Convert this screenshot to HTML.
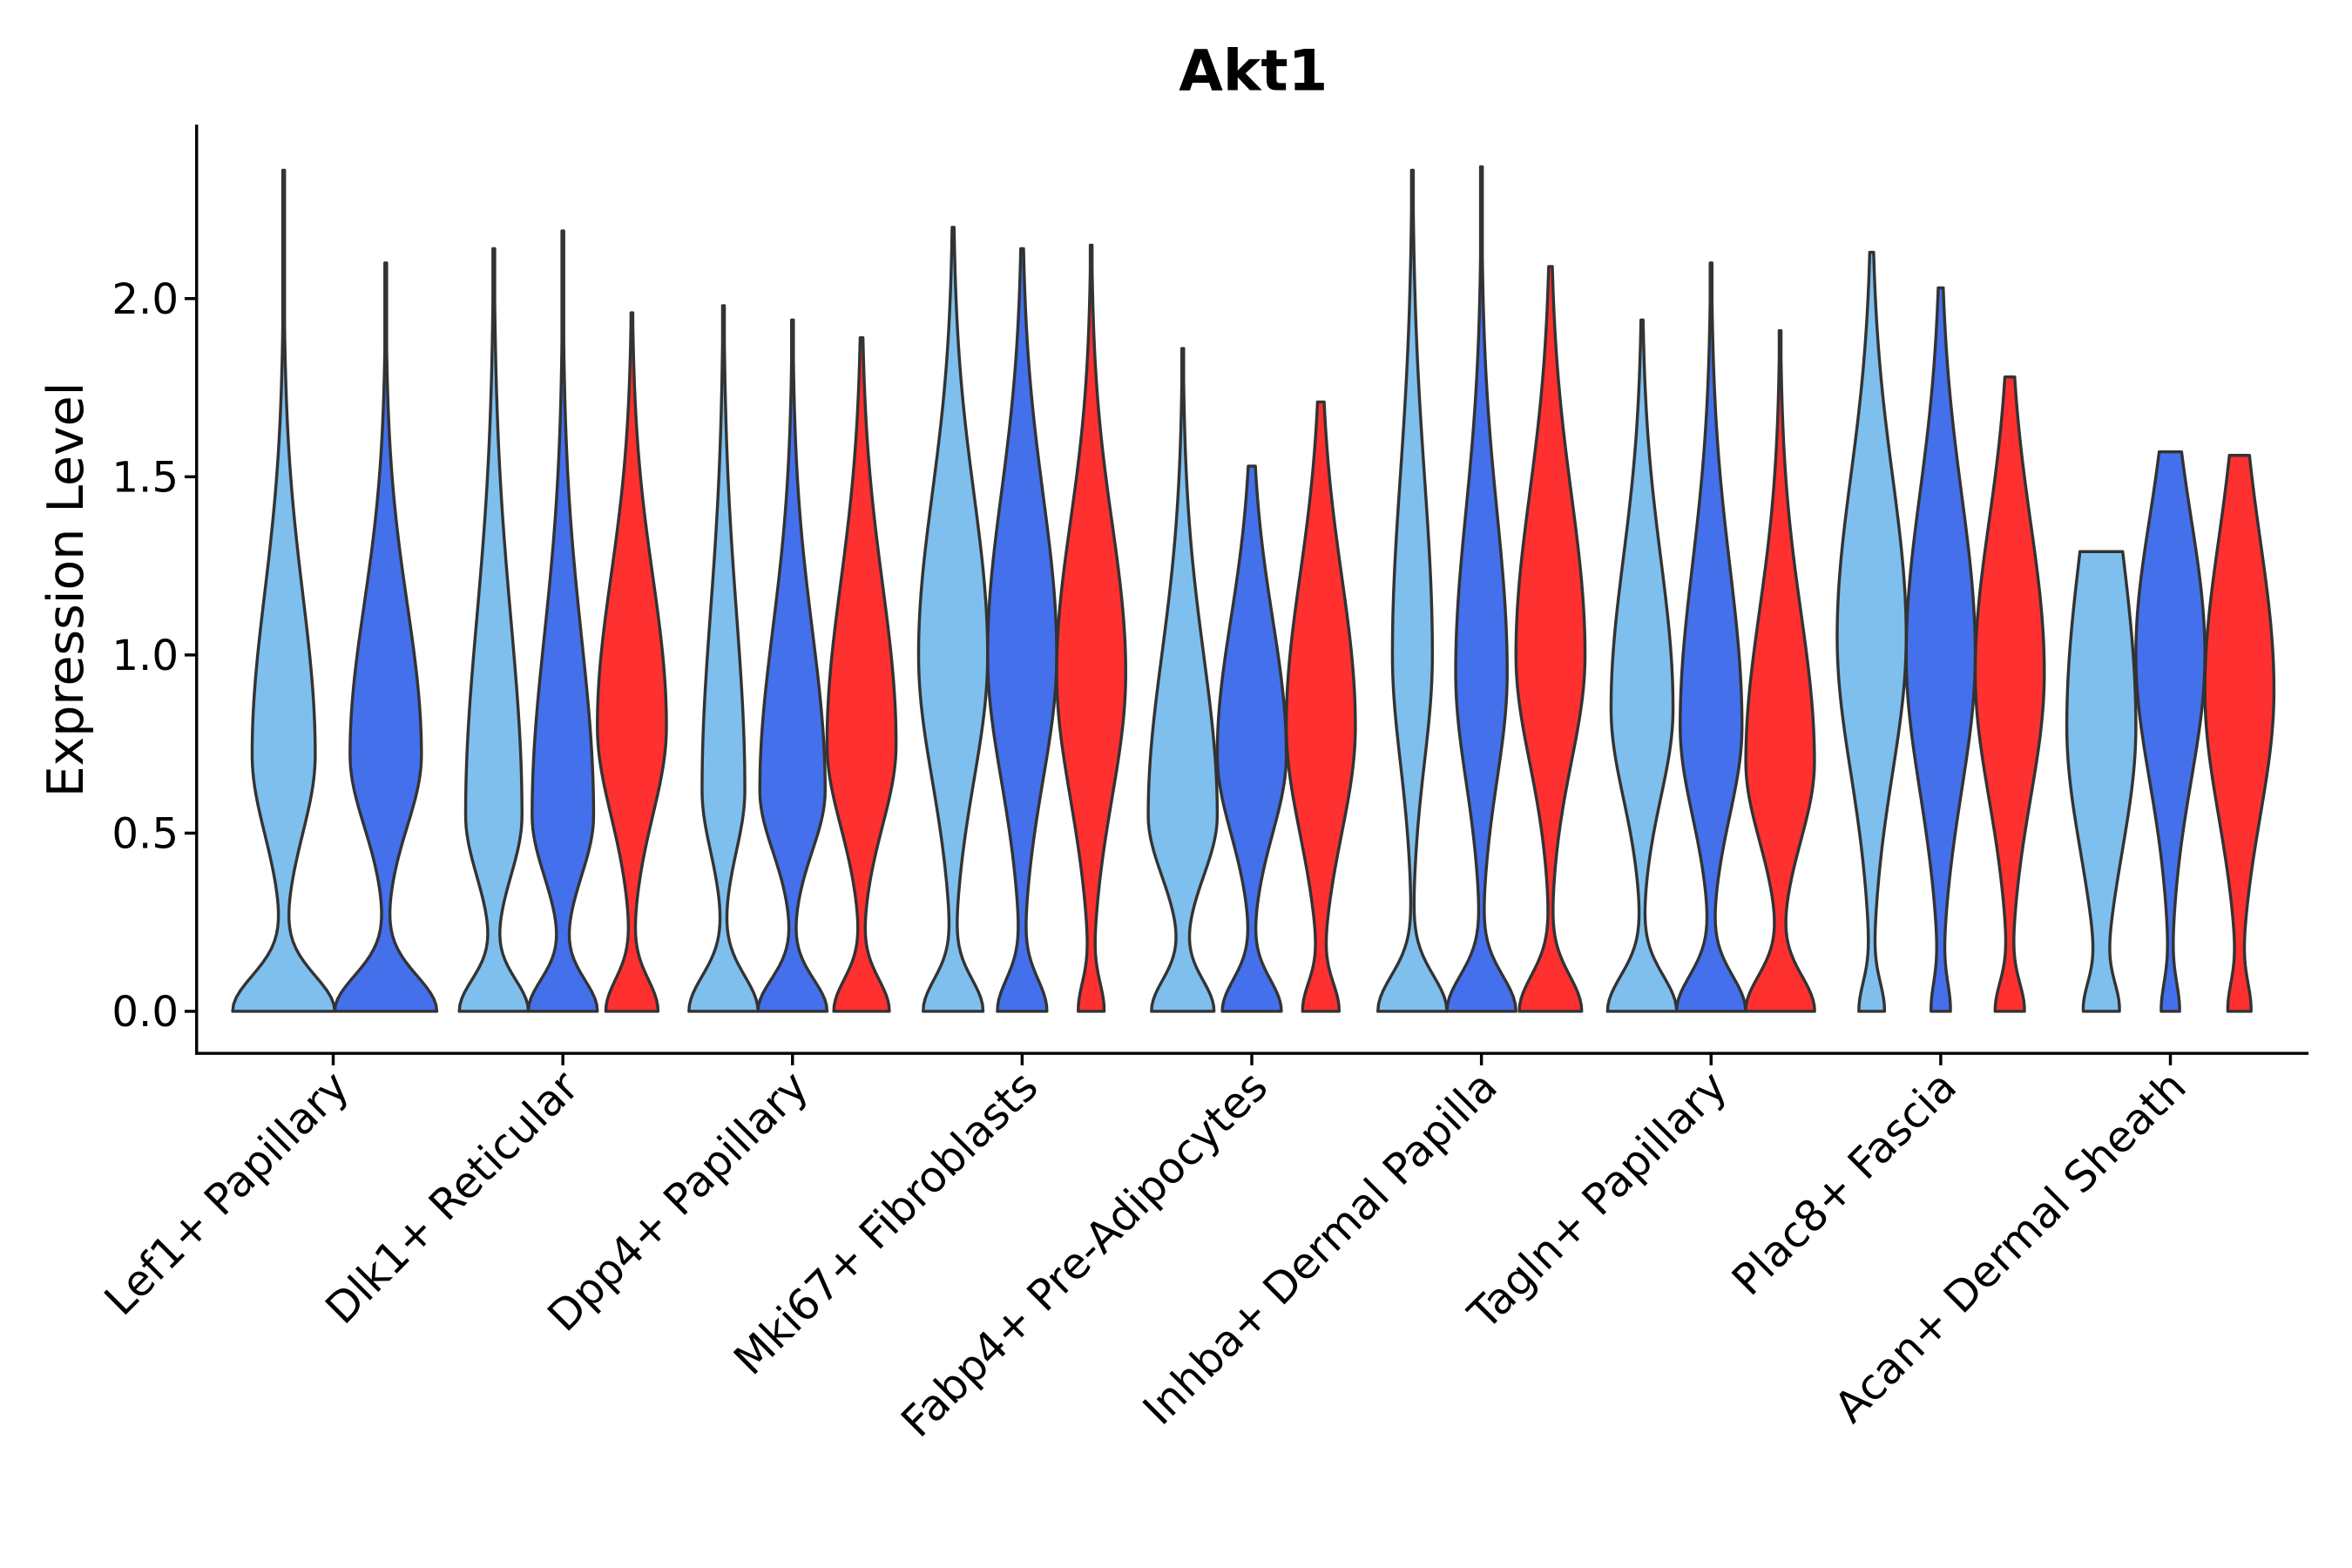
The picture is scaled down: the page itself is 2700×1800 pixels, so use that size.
<!DOCTYPE html>
<html><head><meta charset="utf-8"><style>
html,body{margin:0;padding:0;background:#fff;}
svg{display:block;font-family:"Liberation Sans","DejaVu Sans",sans-serif;}
</style></head><body>
<svg id="chart" width="2700" height="1800" viewBox="0 0 1567 1045" preserveAspectRatio="none" xmlns="http://www.w3.org/2000/svg">
<text x="835" y="60" text-anchor="middle" font-size="38" font-weight="bold" font-family="DejaVu Sans, sans-serif">Akt1</text>
<text transform="translate(55,393) rotate(-90)" text-anchor="middle" font-size="33" font-family="DejaVu Sans, sans-serif">Expression Level</text>
<g id="violins"></g>
<g id="axes"></g>
</svg>
<script>
const categories = ["Lef1+ Papillary","Dlk1+ Reticular","Dpp4+ Papillary","Mki67+ Fibroblasts","Fabp4+ Pre-Adipocytes","Inhba+ Dermal Papilla","Tagln+ Papillary","Plac8+ Fascia","Acan+ Dermal Sheath"];
const yTicks = [0, 0.5, 1.0, 1.5, 2.0];
const yTickLabels = ["0.0","0.5","1.0","1.5","2.0"];
// per violin: [categoryIndex, series(0 light,1 blue,2 red), max, zeroWeight, zeroSd, mainWeight, mainMu, sdLow, sdHigh]
const lightViolins = [
 [0,0,2.36,1.0,0.10,0.62,0.72,0.22,0.45],
 [1,0,2.14,1.0,0.09,0.82,0.55,0.17,0.55],
 [2,0,1.98,1.0,0.10,0.62,0.62,0.17,0.5],
 [3,0,2.20,0.85,0.09,1.0,1.0,0.35,0.45],
 [4,0,1.86,0.9,0.09,1.0,0.55,0.17,0.45],
 [5,0,2.36,1.0,0.10,0.58,1.0,0.3,0.5],
 [6,0,1.94,1.0,0.10,0.9,0.85,0.25,0.42],
 [7,0,2.13,0.35,0.08,1.0,1.05,0.38,0.45],
 [8,0,1.29,0.45,0.08,1.0,0.8,0.35,0.5]
];
const blueViolins = [
 [0,1,2.10,1.0,0.10,0.7,0.72,0.2,0.42],
 [1,1,2.19,0.95,0.09,0.85,0.55,0.17,0.5],
 [2,1,1.94,0.95,0.09,0.9,0.62,0.17,0.45],
 [3,1,2.14,0.7,0.09,1.0,1.0,0.35,0.45],
 [4,1,1.53,0.85,0.09,1.0,0.72,0.22,0.38],
 [5,1,2.37,1.0,0.10,0.75,0.95,0.3,0.45],
 [6,1,2.10,1.0,0.10,0.9,0.8,0.25,0.45],
 [7,1,2.03,0.25,0.08,1.0,1.0,0.38,0.45],
 [8,1,1.57,0.25,0.08,1.0,1.0,0.35,0.38]
];
const redViolins = [
 [1,2,1.96,0.75,0.09,1.0,0.8,0.25,0.42],
 [2,2,1.89,0.8,0.09,1.0,0.75,0.23,0.45],
 [3,2,2.15,0.35,0.08,1.0,0.95,0.35,0.42],
 [4,2,1.71,0.5,0.08,1.0,0.8,0.3,0.42],
 [5,2,2.09,0.9,0.10,1.0,1.0,0.3,0.45],
 [6,2,1.91,1.0,0.10,1.0,0.7,0.22,0.42],
 [7,2,1.78,0.4,0.08,1.0,0.95,0.35,0.42],
 [8,2,1.56,0.3,0.08,1.0,0.9,0.35,0.42]
];
const colors = ["#7FBFEE","#4470EC","#FF3030"];
const NS = "http://www.w3.org/2000/svg";
const X0 = 131, X1 = 1538, XAXIS_Y = 702, YTOP = 83;
function yScale(v){ return 674 - v*237.5; }
function xCenter(i){ return 222 + i*153; }
const allV = lightViolins.concat(blueViolins, redViolins);
function groupCount(i){ return allV.filter(d=>d[0]===i).length; }
function violinX(i, s){
  if (groupCount(i)===2) return xCenter(i) + (s===0 ? -33 : 35);
  return xCenter(i) + (s-1)*46;
}
function density(d, v){
  const sdM = v < d[6] ? d[7] : d[8];
  return d[3]*Math.exp(-v*v/(2*d[4]*d[4])) + d[5]*Math.exp(-(v-d[6])*(v-d[6])/(2*sdM*sdM));
}
const vg = document.getElementById('violins');
allV.forEach(d=>{
  const H = groupCount(d[0])===2 ? 34 : 23;
  const N = 120; const pts = [];
  let mx = 0;
  for (let k=0;k<=N;k++){ const v = d[2]*k/N; mx = Math.max(mx, density(d,v)); }
  for (let k=0;k<=N;k++){ const v = d[2]*k/N; pts.push([v, Math.max(0.6, H*density(d,v)/mx)]); }
  const cx = violinX(d[0], d[1]);
  let path = "M" + (cx - pts[0][1]) + "," + yScale(0);
  pts.forEach(p=>{ path += " L" + (cx - p[1]).toFixed(2) + "," + yScale(p[0]).toFixed(2); });
  for (let k=pts.length-1;k>=0;k--){ const p=pts[k]; path += " L" + (cx + p[1]).toFixed(2) + "," + yScale(p[0]).toFixed(2); }
  path += " Z";
  const el = document.createElementNS(NS,'path');
  el.setAttribute('d', path);
  el.setAttribute('fill', colors[d[1]]);
  el.setAttribute('stroke', '#333');
  el.setAttribute('stroke-width', '2');
  el.setAttribute('stroke-linejoin', 'round');
  
  
  vg.appendChild(el);
});
const ag = document.getElementById('axes');
function line(x1,y1,x2,y2,name){
  const l = document.createElementNS(NS,'line');
  l.setAttribute('x1',x1); l.setAttribute('y1',y1); l.setAttribute('x2',x2); l.setAttribute('y2',y2);
  l.setAttribute('stroke','#000'); l.setAttribute('stroke-width','2');
  
  
  ag.appendChild(l);
}
line(X0, YTOP, X0, XAXIS_Y+1, 'y-axis-line');
line(X0-1, XAXIS_Y, X1, XAXIS_Y, 'x-axis-line');
yTicks.forEach((t,i)=>{
  line(X0-8, yScale(t), X0, yScale(t), 'y-tick');
  const tx = document.createElementNS(NS,'text');
  tx.setAttribute('x', X0-12); tx.setAttribute('y', yScale(t)+10);
  tx.setAttribute('text-anchor','end'); tx.setAttribute('font-size','28');
  tx.setAttribute('font-family','DejaVu Sans, sans-serif');
  tx.textContent = yTickLabels[i];
  
  
  ag.appendChild(tx);
});
categories.forEach((c,i)=>{
  const x = xCenter(i);
  line(x, XAXIS_Y, x, XAXIS_Y+8, 'x-tick');
  const tx = document.createElementNS(NS,'text');
  tx.setAttribute('transform', 'translate(' + (x+12) + ',' + (XAXIS_Y+24) + ') rotate(-45)');
  tx.setAttribute('text-anchor','end'); tx.setAttribute('font-size','28.5');
  tx.setAttribute('font-family','DejaVu Sans, sans-serif');
  tx.textContent = c;
  
  
  ag.appendChild(tx);
});
</script>
</body></html>
